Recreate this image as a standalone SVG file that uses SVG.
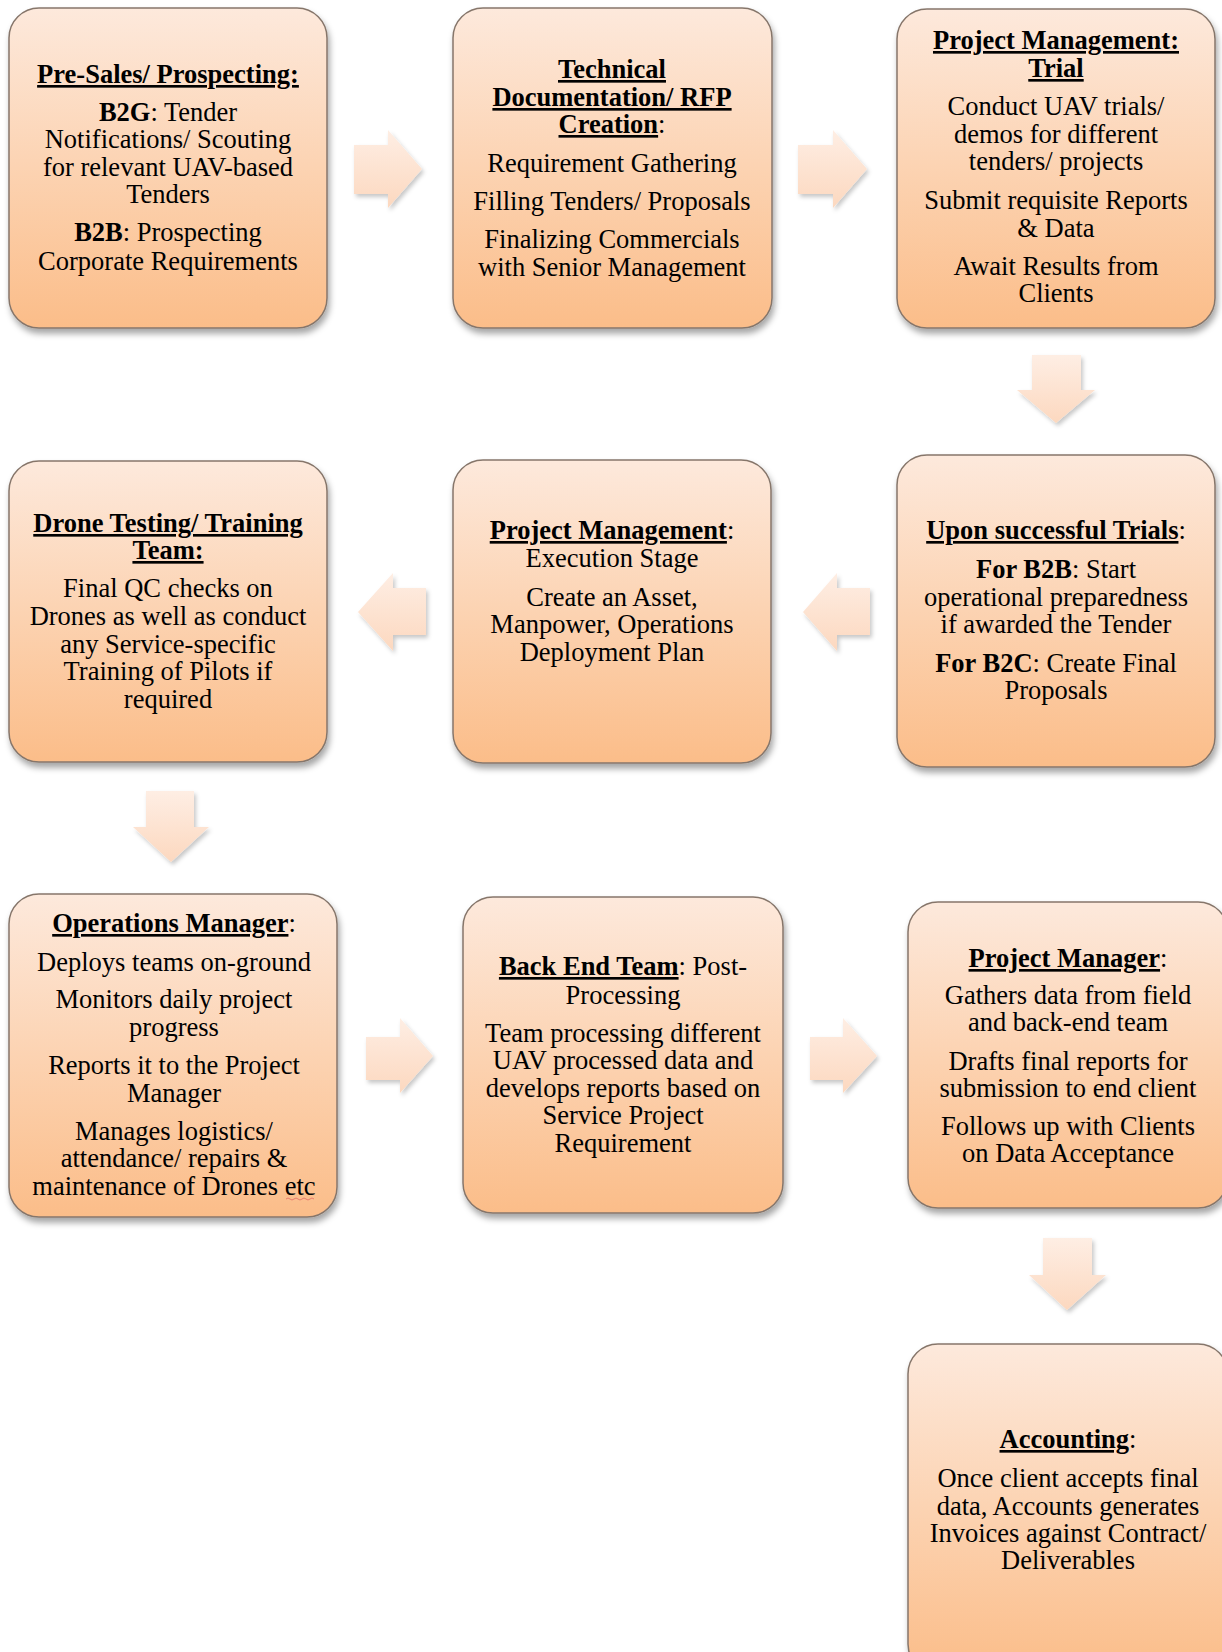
<svg xmlns="http://www.w3.org/2000/svg" width="1222" height="1652" viewBox="0 0 1222 1652">
<defs>
<linearGradient id="boxg" x1="0" y1="0" x2="0" y2="1">
<stop offset="0" stop-color="#fde9dc"/>
<stop offset="0.5" stop-color="#fcd3b2"/>
<stop offset="1" stop-color="#fbbd89"/>
</linearGradient>
<linearGradient id="arrg" x1="0" y1="0" x2="0" y2="1">
<stop offset="0" stop-color="#feeee4"/>
<stop offset="1" stop-color="#fcd8bf"/>
</linearGradient>
<filter id="sh" x="-10%" y="-10%" width="125%" height="125%">
<feDropShadow dx="2" dy="5" stdDeviation="3" flood-color="#000" flood-opacity="0.35"/>
</filter>
<filter id="ash" x="-20%" y="-20%" width="150%" height="150%">
<feDropShadow dx="2" dy="3" stdDeviation="2" flood-color="#000" flood-opacity="0.22"/>
</filter>
</defs>
<style>
.box{fill:url(#boxg);stroke:#86766b;stroke-width:1.5;filter:url(#sh)}
.arr{fill:url(#arrg);stroke:none;filter:url(#ash)}
text{font-family:"Liberation Serif","Times New Roman",serif;font-size:26.5px;fill:#000;text-anchor:middle}
.b{font-weight:bold}
.u{font-weight:bold;text-decoration:underline}
</style>

<g id="connectors">
<polygon class="arr" points="354,145 388,145 388,130 422,169 388,208 388,194 354,194"/>
<polygon class="arr" points="798,145 833,145 833,130 867,169 833,208 833,194 798,194"/>
<polygon class="arr" points="1032,355 1081,355 1081,390 1095,390 1056,423 1017,390 1032,390"/>
<polygon class="arr" points="870,588 837,588 837,573 803,612 837,651 837,635 870,635"/>
<polygon class="arr" points="426,588 393,588 393,573 358,612 393,651 393,635 426,635"/>
<polygon class="arr" points="146,791 194,791 194,827 209,827 171,862 133,827 146,827"/>
<polygon class="arr" points="366,1037 400,1037 400,1018 433,1056 400,1093 400,1080 366,1080"/>
<polygon class="arr" points="810,1037 843,1037 843,1018 877,1056 843,1093 843,1080 810,1080"/>
<polygon class="arr" points="1043,1238 1092,1238 1092,1275 1106,1275 1067,1310 1029,1275 1043,1275"/>
</g>

<g id="presales">
<rect class="box" x="9" y="8" width="318" height="320" rx="30"/>
<text x="168" y="83"><tspan class="u">Pre-Sales/ Prospecting:</tspan></text>
<text x="168" y="121"><tspan class="b">B2G</tspan>: Tender<tspan x="168" y="148">Notifications/ Scouting</tspan><tspan x="168" y="176">for relevant UAV-based</tspan><tspan x="168" y="203">Tenders</tspan></text>
<text x="168" y="241"><tspan class="b">B2B</tspan>: Prospecting<tspan x="168" y="270">Corporate Requirements</tspan></text>
</g>

<g id="techdoc">
<rect class="box" x="453" y="8" width="319" height="320" rx="30"/>
<text x="612" y="78"><tspan class="u">Technical</tspan><tspan x="612" y="106" class="u">Documentation/ RFP</tspan><tspan x="612" y="133" class="u">Creation</tspan>:</text>
<text x="612" y="172">Requirement Gathering</text>
<text x="612" y="210">Filling Tenders/ Proposals</text>
<text x="612" y="248">Finalizing Commercials<tspan x="612" y="276">with Senior Management</tspan></text>
</g>

<g id="pmtrial">
<rect class="box" x="897" y="9" width="318" height="319" rx="30"/>
<text x="1056" y="49"><tspan class="u">Project Management:</tspan><tspan x="1056" y="77" class="u">Trial</tspan></text>
<text x="1056" y="115">Conduct UAV trials/<tspan x="1056" y="143">demos for different</tspan><tspan x="1056" y="170">tenders/ projects</tspan></text>
<text x="1056" y="209">Submit requisite Reports<tspan x="1056" y="237">&amp; Data</tspan></text>
<text x="1056" y="275">Await Results from<tspan x="1056" y="302">Clients</tspan></text>
</g>

<g id="trials">
<rect class="box" x="897" y="455" width="318" height="312" rx="30"/>
<text x="1056" y="539"><tspan class="u">Upon successful Trials</tspan>:</text>
<text x="1056" y="578"><tspan class="b">For B2B</tspan>: Start<tspan x="1056" y="606">operational preparedness</tspan><tspan x="1056" y="633">if awarded the Tender</tspan></text>
<text x="1056" y="672"><tspan class="b">For B2C</tspan>: Create Final<tspan x="1056" y="699">Proposals</tspan></text>
</g>

<g id="pmexec">
<rect class="box" x="453" y="460" width="318" height="303" rx="30"/>
<text x="612" y="539"><tspan class="u">Project Management</tspan>:<tspan x="612" y="567">Execution Stage</tspan></text>
<text x="612" y="606">Create an Asset,<tspan x="612" y="633">Manpower, Operations</tspan><tspan x="612" y="661">Deployment Plan</tspan></text>
</g>

<g id="dronetest">
<rect class="box" x="9" y="461" width="318" height="301" rx="30"/>
<text x="168" y="532"><tspan class="u">Drone Testing/ Training</tspan><tspan x="168" y="559" class="u">Team:</tspan></text>
<text x="168" y="597">Final QC checks on<tspan x="168" y="625">Drones as well as conduct</tspan><tspan x="168" y="653">any Service-specific</tspan><tspan x="168" y="680">Training of Pilots if</tspan><tspan x="168" y="708">required</tspan></text>
</g>

<g id="opsmgr">
<rect class="box" x="9" y="894" width="328" height="323" rx="30"/>
<text x="174" y="932"><tspan class="u">Operations Manager</tspan>:</text>
<text x="174" y="971">Deploys teams on-ground</text>
<text x="174" y="1008">Monitors daily project<tspan x="174" y="1036">progress</tspan></text>
<text x="174" y="1074">Reports it to the Project<tspan x="174" y="1102">Manager</tspan></text>
<text x="174" y="1140">Manages logistics/<tspan x="174" y="1167">attendance/ repairs &amp;</tspan><tspan x="174" y="1195">maintenance of Drones etc</tspan></text>
<path d="M286,1199 q2,-2 4,0 t4,0 t4,0 t4,0 t4,0 t4,0 t4,0" fill="none" stroke="#e06060" stroke-width="1" opacity="0.7"/>
</g>

<g id="backend">
<rect class="box" x="463" y="897" width="320" height="316" rx="30"/>
<text x="623" y="975"><tspan class="u">Back End Team</tspan>: Post-<tspan x="623" y="1004">Processing</tspan></text>
<text x="623" y="1042">Team processing different<tspan x="623" y="1069">UAV processed data and</tspan><tspan x="623" y="1097">develops reports based on</tspan><tspan x="623" y="1124">Service Project</tspan><tspan x="623" y="1152">Requirement</tspan></text>
</g>

<g id="pmgr">
<rect class="box" x="908" y="902" width="320" height="306" rx="30"/>
<text x="1068" y="967"><tspan class="u">Project Manager</tspan>:</text>
<text x="1068" y="1004">Gathers data from field<tspan x="1068" y="1031">and back-end team</tspan></text>
<text x="1068" y="1070">Drafts final reports for<tspan x="1068" y="1097">submission to end client</tspan></text>
<text x="1068" y="1135">Follows up with Clients<tspan x="1068" y="1162">on Data Acceptance</tspan></text>
</g>

<g id="accounting">
<rect class="box" x="908" y="1344" width="320" height="330" rx="30"/>
<text x="1068" y="1448"><tspan class="u">Accounting</tspan>:</text>
<text x="1068" y="1487">Once client accepts final<tspan x="1068" y="1515">data, Accounts generates</tspan><tspan x="1068" y="1542">Invoices against Contract/</tspan><tspan x="1068" y="1569">Deliverables</tspan></text>
</g>
</svg>
